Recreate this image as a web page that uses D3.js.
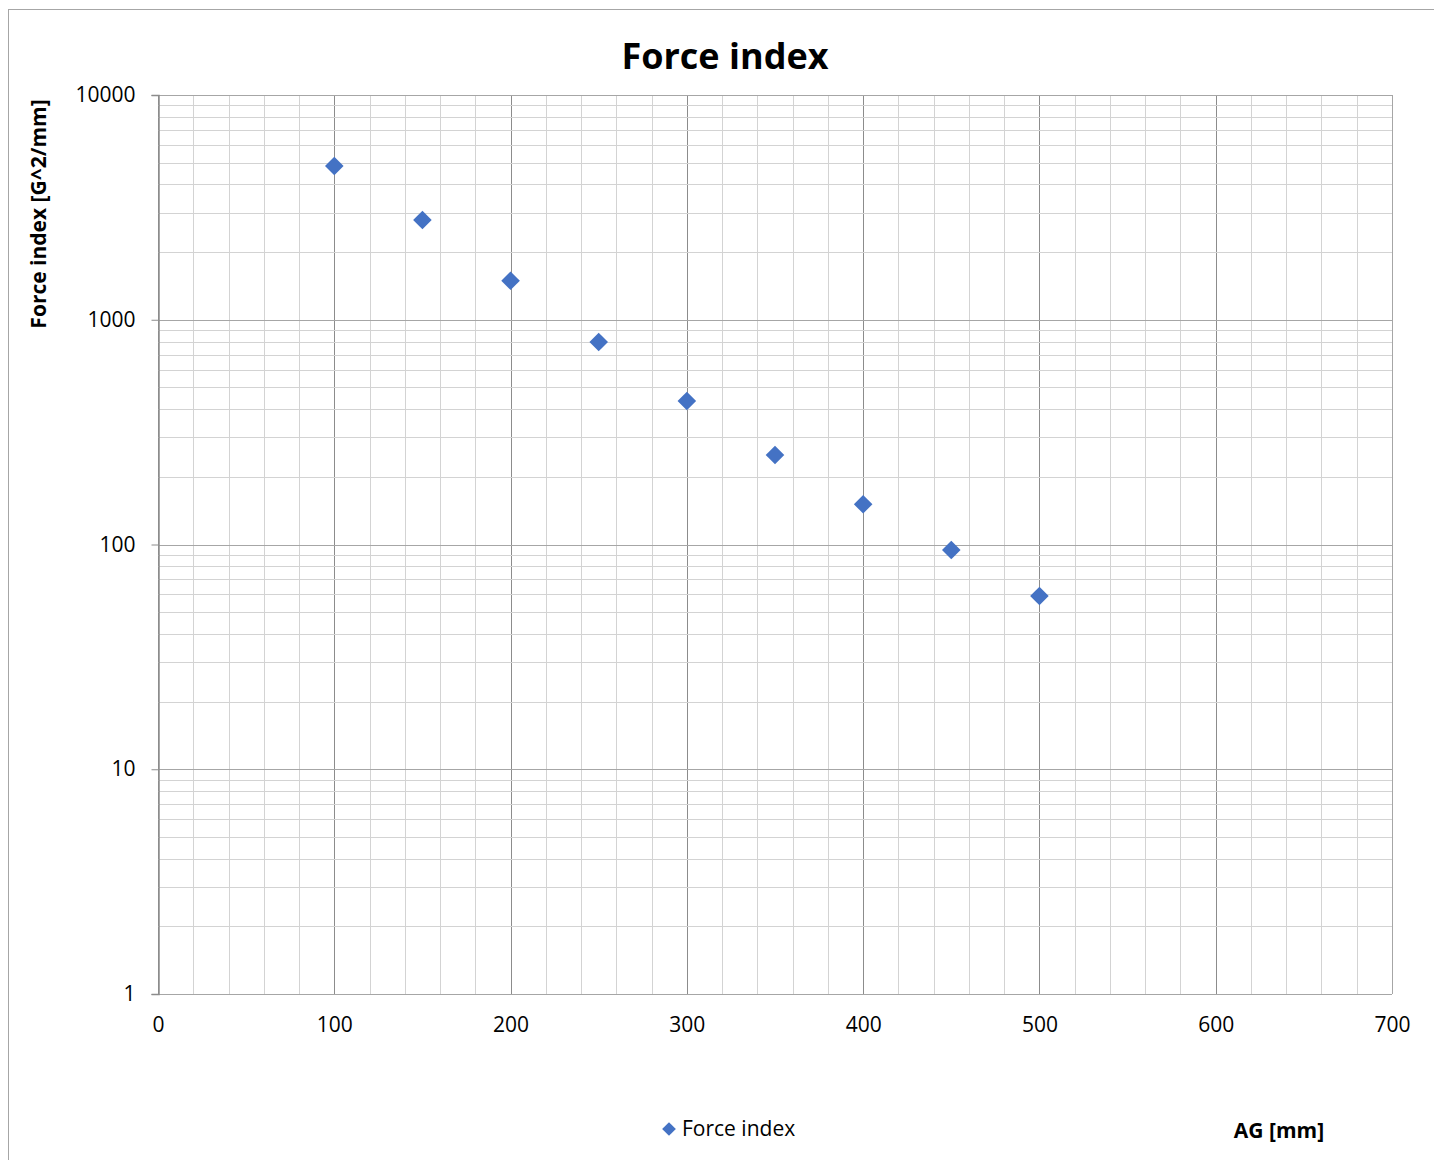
<!DOCTYPE html>
<html><head><meta charset="utf-8">
<script src="https://cdn.jsdelivr.net/npm/d3@7"></script>
<style>body{margin:0;background:#fff}</style>
</head><body>
<svg id="c" width="1434" height="1160"></svg>
<script>
const agValues = [100,150,200,250,300,350,400,450,500];
const forceIndex = [4830,2780,1490,796,435,250,151,94.5,59];
const xTicks = [0,100,200,300,400,500,600,700];
const yTicks = [1,10,100,1000,10000];
const title = "Force index";
const xTitle = "AG [mm]";
const yTitle = "Force index [G^2/mm]";
const seriesName = "Force index";

const svg = d3.select("#c");
const font = "'Open Sans', 'Liberation Sans', sans-serif";
const L=158,R=1392,T=95,B=994;
const x = d3.scaleLinear().domain([0,700]).range([L,R]);
const y = d3.scaleLog().domain([1,10000]).range([B,T]);

// chart border
svg.append("rect").attr("x",8.5).attr("y",9.5).attr("width",1500).attr("height",1500)
  .attr("fill","none").attr("stroke","#a6a6a6").attr("stroke-width",1);

const g = svg.append("g");
d3.range(0,701,20).forEach(v=>{
  const major = v%100===0;
  g.append("line").attr("x1",Math.round(x(v))+0.5).attr("x2",Math.round(x(v))+0.5).attr("y1",T).attr("y2",B)
    .attr("stroke", major? "#8c8c8c":"#d3d3d3").attr("stroke-width",1);
});
for(let d=0; d<4; d++){
  for(let k=2;k<=9;k++){
    const v = k*Math.pow(10,d);
    g.append("line").attr("x1",L).attr("x2",R).attr("y1",Math.round(y(v))+0.5).attr("y2",Math.round(y(v))+0.5)
      .attr("stroke","#d3d3d3");
  }
}
yTicks.forEach(v=>{
  g.append("line").attr("x1",L).attr("x2",R).attr("y1",Math.round(y(v))+0.5).attr("y2",Math.round(y(v))+0.5)
    .attr("stroke","#a6a6a6");
});

const yAxis = svg.append("g").attr("transform",`translate(${L+0.5},0)`)
  .call(d3.axisLeft(y).tickValues(yTicks).tickFormat(d3.format("d")).tickSize(7).tickPadding(16));
yAxis.select(".domain").attr("stroke","#8c8c8c").attr("stroke-width",1.5);
yAxis.selectAll(".tick line").attr("stroke","#8c8c8c");
yAxis.selectAll("text").attr("font-family",font).attr("font-size",21).attr("fill","#000");

const xAxis = svg.append("g").attr("transform",`translate(0,${B+0.5})`)
  .call(d3.axisBottom(x).tickValues(xTicks).tickFormat(d3.format("d")).tickSize(0).tickPadding(23));
xAxis.select(".domain").remove();
xAxis.selectAll("text").attr("font-family",font).attr("font-size",21).attr("fill","#000");

svg.append("line").attr("x1",R+0.5).attr("x2",R+0.5).attr("y1",T).attr("y2",B).attr("stroke","#a6a6a6");

const diamond = d3.symbol().type(d3.symbolDiamond2).size(220);
svg.append("g").selectAll("path").data(agValues).join("path")
  .attr("transform",(d,i)=>`translate(${x(d)},${y(forceIndex[i])})`)
  .attr("d",diamond).attr("fill","#4472C4");

svg.append("text").attr("x",725).attr("y",69).attr("text-anchor","middle")
  .attr("font-family",font).attr("font-weight","bold").attr("font-size",36).text(title);
svg.append("text").attr("transform","translate(46,214) rotate(-90)").attr("text-anchor","middle")
  .attr("font-family",font).attr("font-weight","bold").attr("font-size",21).text(yTitle);
svg.append("text").attr("x",1279).attr("y",1138).attr("text-anchor","middle")
  .attr("font-family",font).attr("font-weight","bold").attr("font-size",21).text(xTitle);
svg.append("path").attr("transform","translate(669,1129)").attr("d",d3.symbol().type(d3.symbolDiamond2).size(120)).attr("fill","#4472C4");
svg.append("text").attr("x",682).attr("y",1136).attr("font-family",font).attr("font-size",21).text(seriesName);
</script>
</body></html>
